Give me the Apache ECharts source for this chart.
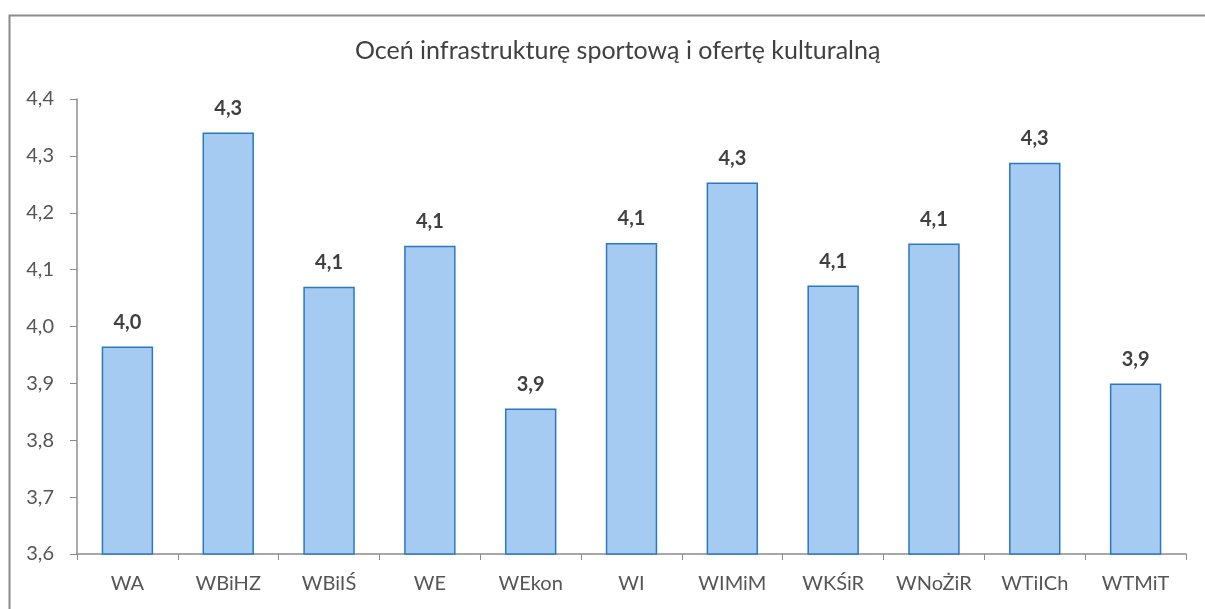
<!DOCTYPE html>
<html>
<head>
<meta charset="utf-8">
<script src="https://cdn.jsdelivr.net/npm/echarts@6/dist/echarts.min.js"></script>
<style>
  html, body { margin: 0; padding: 0; background: #fff; }
  #chart { width: 1205px; height: 609px; }
</style>
</head>
<body>
<div id="chart"></div>
<script>
const categories = ['WA', 'WBiHZ', 'WBiIŚ', 'WE', 'WEkon', 'WI', 'WIMiM', 'WKŚiR', 'WNoŻiR', 'WTiICh', 'WTMiT'];
const ratings = [3.965, 4.341, 4.07, 4.142, 3.856, 4.147, 4.253, 4.072, 4.146, 4.288, 3.9];
const yTicks = { min: 3.6, max: 4.4, step: 0.1 };

function fmtComma(v) {
  return Number(v).toFixed(1).replace('.', ',');
}

const chart = echarts.init(document.getElementById('chart'));

chart.setOption({
  animation: false,
  backgroundColor: '#fff',
  textStyle: { fontFamily: 'Lato, "Open Sans", sans-serif' },
  title: {
    text: 'Oceń infrastrukturę sportową i ofertę kulturalną',
    left: 350,
    top: 33,
    textStyle: { fontSize: 25, fontWeight: 'normal', color: '#404040' }
  },
  // outer chart frame, cut off on the right and bottom like the scan
  graphic: [{
    type: 'rect',
    left: 7,
    top: 13,
    shape: { width: 1400, height: 800 },
    style: { fill: 'none', stroke: '#8a8a8a', lineWidth: 2 },
    silent: true
  }],
  grid: { left: 77, right: 19, top: 99, bottom: 55 },
  xAxis: {
    type: 'category',
    data: categories,
    axisLine: { lineStyle: { color: '#8c8c8c', width: 1.5 } },
    axisTick: { show: true, length: 6, lineStyle: { color: '#8c8c8c' } },
    axisLabel: { fontSize: 20, color: '#555', margin: 20 }
  },
  yAxis: {
    type: 'value',
    min: yTicks.min,
    max: yTicks.max,
    interval: yTicks.step,
    axisLine: { show: true, lineStyle: { color: '#8c8c8c', width: 1.5 } },
    axisTick: { show: true, length: 7, lineStyle: { color: '#8c8c8c' } },
    splitLine: { show: false },
    axisLabel: { fontSize: 20, color: '#555', margin: 23, formatter: fmtComma }
  },
  series: [{
    type: 'bar',
    data: ratings,
    barWidth: '51%',
    itemStyle: { color: '#a6cbf2', borderColor: '#2a78c0', borderWidth: 1.5 },
    label: {
      show: true,
      position: 'top',
      distance: 14,
      fontSize: 20,
      fontWeight: 'bold',
      color: '#404040',
      formatter: p => fmtComma(p.value)
    }
  }]
});
</script>
</body>
</html>
